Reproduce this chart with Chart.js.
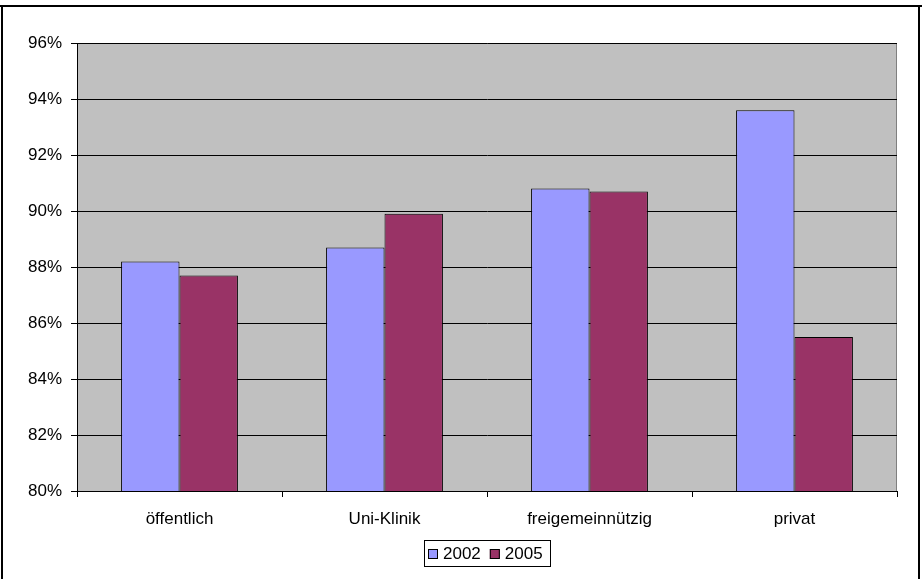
<!DOCTYPE html>
<html>
<head>
<meta charset="utf-8">
<script src="https://cdn.jsdelivr.net/npm/chart.js@4/dist/chart.umd.min.js"></script>
<style>
html,body{margin:0;padding:0;background:#fff;}
#wrap{width:922px;height:579px;}
</style>
</head>
<body>
<div id="wrap"><canvas id="c" width="922" height="579"></canvas></div>
<script>
const categories = ["öffentlich", "Uni-Klinik", "freigemeinnützig", "privat"];
const seriesNames = ["2002", "2005"];
const values2002 = [88.2, 88.7, 90.8, 93.6];
const values2005 = [87.7, 89.9, 90.7, 85.5];
const yMin = 80, yMax = 96, yStep = 2;
const seriesColors = ['#9999FF', '#993366'];

const FONT_FAMILY = "'Liberation Sans', Arial, sans-serif";
const FONT = {family: FONT_FAMILY, size: 17};

const framePlugin = {
  id: 'frame',
  beforeDraw(chart) {
    const {ctx, chartArea: a} = chart;
    ctx.save();
    ctx.fillStyle = '#C0C0C0';
    ctx.fillRect(a.left, a.top, a.right - a.left, a.bottom - a.top);
    ctx.strokeStyle = '#808080';
    ctx.lineWidth = 1;
    ctx.beginPath();
    ctx.moveTo(a.left, a.top + 0.5);
    ctx.lineTo(a.right - 0.5, a.top + 0.5);
    ctx.lineTo(a.right - 0.5, a.bottom);
    ctx.stroke();
    ctx.restore();
  },
  afterDraw(chart) {
    const {ctx, chartArea: a} = chart;
    ctx.save();
    ctx.strokeStyle = '#000';
    ctx.lineWidth = 2;
    ctx.beginPath();
    ctx.moveTo(0, 6); ctx.lineTo(922, 6);
    ctx.moveTo(2, 5); ctx.lineTo(2, 579);
    ctx.moveTo(919, 5); ctx.lineTo(919, 579);
    ctx.stroke();

    // legend
    ctx.font = '17px ' + FONT_FAMILY;
    ctx.textBaseline = 'middle';
    ctx.textAlign = 'left';
    const sq = 10, gapBox = 5, gapItem = 9, padL = 4, padR = 7;
    const widths = seriesNames.map(n => ctx.measureText(n).width);
    let total = padL + padR;
    widths.forEach((w, i) => { total += sq + gapBox + w + (i > 0 ? gapItem : 0); });
    const cx = (a.left + a.right) / 2;
    const bx = Math.round(cx - total / 2), by = 540, bh = 26;
    ctx.lineWidth = 1;
    ctx.strokeStyle = '#000';
    ctx.strokeRect(bx + 0.5, by + 0.5, Math.round(total), bh);
    let x = bx + padL;
    const midY = by + bh / 2 + 1;
    seriesNames.forEach((n, i) => {
      if (i > 0) x += gapItem;
      ctx.fillStyle = seriesColors[i];
      ctx.fillRect(x, midY - 5, sq, sq);
      ctx.strokeRect(x + 0.5, midY - 5 + 0.5, sq - 1, sq - 1);
      x += sq + gapBox;
      ctx.fillStyle = '#000';
      ctx.fillText(n, x, midY);
      x += widths[i];
    });
    ctx.restore();
  }
};

new Chart(document.getElementById('c'), {
  type: 'bar',
  data: {
    labels: categories,
    datasets: [
      {label: seriesNames[0], data: values2002, backgroundColor: seriesColors[0], borderColor: '#000', borderWidth: 1},
      {label: seriesNames[1], data: values2005, backgroundColor: seriesColors[1], borderColor: '#000', borderWidth: 1}
    ]
  },
  options: {
    responsive: false,
    animation: false,
    devicePixelRatio: 1,
    categoryPercentage: 0.57,
    barPercentage: 1.0,
    layout: {padding: {left: 0, top: 43, right: 25, bottom: 0}},
    plugins: {
      tooltip: {enabled: false},
      legend: {display: false}
    },
    scales: {
      x: {
        afterFit(s) { s.height = 88; },
        grid: {display: true, drawOnChartArea: false, drawTicks: true, tickLength: 6, color: '#000', offset: true},
        border: {display: true, color: '#000', width: 1},
        ticks: {color: '#000', font: FONT, padding: 12, maxRotation: 0}
      },
      y: {
        min: yMin, max: yMax,
        afterFit(s) { s.width = 77; },
        grid: {color: '#000', lineWidth: 1, drawTicks: true, tickLength: 6, tickColor: '#000'},
        border: {display: true, color: '#000', width: 1},
        ticks: {stepSize: yStep, color: '#000', font: FONT, padding: 9, callback: v => v + '%'}
      }
    }
  },
  plugins: [framePlugin]
});
</script>
</body>
</html>
